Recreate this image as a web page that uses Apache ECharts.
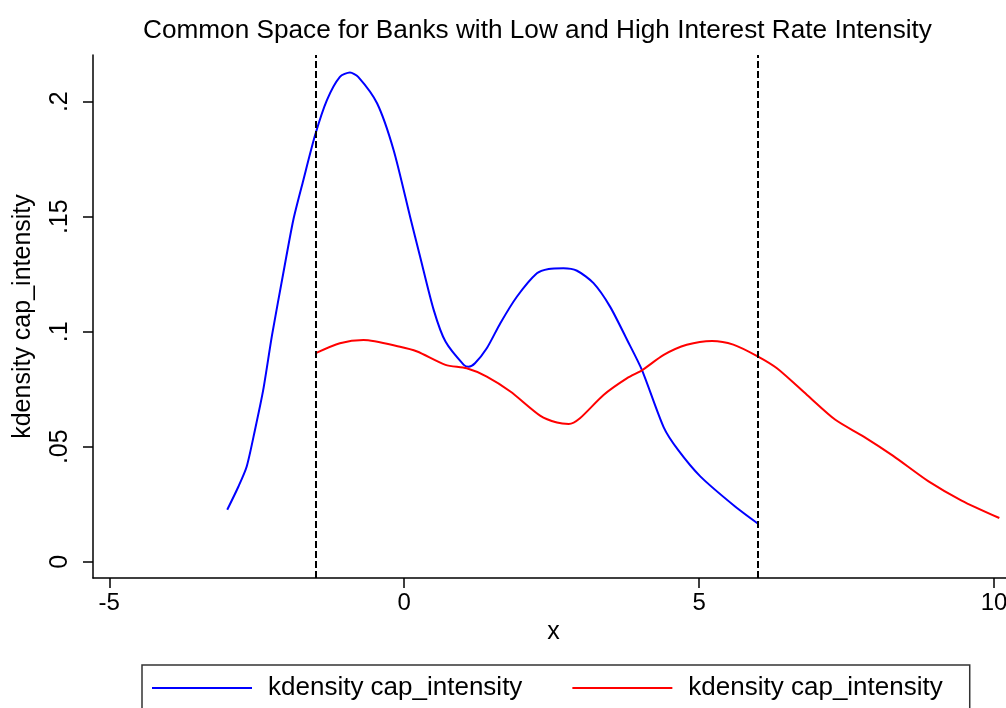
<!DOCTYPE html>
<html>
<head>
<meta charset="utf-8">
<script src="https://cdn.jsdelivr.net/npm/echarts@6/dist/echarts.min.js"></script>
<style>
  html, body { margin: 0; padding: 0; background: #fff; }
  #chart { width: 1006px; height: 708px; }
</style>
</head>
<body>
<div id="chart"></div>
<script>
// Kernel density estimate, low interest-rate-intensity banks
const lowX = [-3.0, -2.81, -2.67, -2.53, -2.39, -2.24, -2.05, -1.88, -1.71, -1.51, -1.31, -1.09, -0.92, -0.78, -0.46, -0.18, 0.10, 0.27, 0.50, 0.70, 1.01, 1.09, 1.20, 1.40, 1.63, 1.91, 2.25, 2.45, 2.70, 2.93, 3.21, 3.49, 3.78, 4.03, 4.40, 4.64, 5.02, 5.61, 6.0];
const lowY = [0.0226, 0.0327, 0.0414, 0.0573, 0.0747, 0.0986, 0.1254, 0.1486, 0.1659, 0.1855, 0.2007, 0.2108, 0.2127, 0.2108, 0.1993, 0.1790, 0.1500, 0.1326, 0.1095, 0.0957, 0.0856, 0.0848, 0.0863, 0.0928, 0.1037, 0.1152, 0.1254, 0.1273, 0.1276, 0.1265, 0.1211, 0.1109, 0.0964, 0.0834, 0.0584, 0.0487, 0.0371, 0.0240, 0.0165];

// Kernel density estimate, high interest-rate-intensity banks
const highX = [-1.5, -1.09, -0.69, -0.07, 0.22, 0.70, 1.06, 1.40, 1.80, 2.31, 2.59, 2.79, 2.98, 3.38, 3.78, 4.03, 4.40, 4.79, 5.22, 5.58, 6.0, 6.32, 6.83, 7.31, 7.79, 8.29, 8.89, 9.45, 10.09];
const highY = [0.0907, 0.0950, 0.0964, 0.0935, 0.0914, 0.0856, 0.0841, 0.0805, 0.0740, 0.0634, 0.0605, 0.0599, 0.0624, 0.0725, 0.0798, 0.0832, 0.0899, 0.0943, 0.0960, 0.0944, 0.0892, 0.0841, 0.0725, 0.0617, 0.0544, 0.0460, 0.0349, 0.0266, 0.0190];

// Bounds of the common support
const supportBounds = [-1.5, 6.0];

// Axis ticks and their labels
const xTicks = [-5, 0, 5, 10];
const xTickLabels = ['-5', '0', '5', '10'];
const yTicks = [0, 0.05, 0.1, 0.15, 0.2];
const yTickLabels = ['0', '.05', '.1', '.15', '.2'];

const seriesNames = ['kdensity cap_intensity', 'kdensity cap_intensity'];

const FONT = '"Liberation Sans", Arial, sans-serif';
const zip = (xs, ys) => xs.map((x, i) => [x, ys[i]]);
const labelFor = (ticks, labels) => v => {
  const i = ticks.findIndex(t => Math.abs(t - v) < 1e-9);
  return i >= 0 ? labels[i] : '';
};

const chart = echarts.init(document.getElementById('chart'), null, { renderer: 'canvas' });

chart.setOption({
  backgroundColor: '#ffffff',
  animation: false,
  title: {
    text: 'Common Space for Banks with Low and High Interest Rate Intensity',
    left: 143,
    top: 18,
    padding: 0,
    textStyle: { fontFamily: FONT, fontSize: 26.2, fontWeight: 'normal', color: '#000' }
  },
  grid: { left: 93, right: 0, top: 55, bottom: 130, containLabel: false, outerBoundsMode: 'none' },
  xAxis: {
    type: 'value',
    min: -5.276,
    max: 10.203,
    name: 'x',
    nameLocation: 'middle',
    nameGap: 28,
    nameTextStyle: { fontFamily: FONT, fontSize: 25, color: '#000', padding: [0, 0, 0, 8] },
    axisLine: { show: true, onZero: false, lineStyle: { color: '#000', width: 1.5 } },
    axisTick: { show: true, length: 10, customValues: xTicks, lineStyle: { color: '#000', width: 1.5 } },
    axisLabel: {
      customValues: xTicks,
      formatter: labelFor(xTicks, xTickLabels),
      margin: 13,
      fontFamily: FONT, fontSize: 24, color: '#000'
    },
    splitLine: { show: false }
  },
  yAxis: {
    type: 'value',
    min: -0.00708,
    max: 0.2203,
    name: 'kdensity cap_intensity',
    nameLocation: 'middle',
    nameGap: 57,
    nameTextStyle: { fontFamily: FONT, fontSize: 25, color: '#000' },
    axisLine: { show: true, onZero: false, lineStyle: { color: '#000', width: 1.5 } },
    axisTick: { show: true, length: 10, customValues: yTicks, lineStyle: { color: '#000', width: 1.5 } },
    axisLabel: {
      customValues: yTicks,
      formatter: labelFor(yTicks, yTickLabels),
      rotate: 90,
      margin: 20,
      fontFamily: FONT, fontSize: 25, color: '#000'
    },
    splitLine: { show: false }
  },
  legend: {
    left: 142,
    top: 665,
    orient: 'horizontal',
    padding: [10, 27, 40, 10],
    itemWidth: 100,
    itemHeight: 14,
    itemGap: 50,
    borderColor: '#333',
    borderWidth: 1.5,
    textStyle: { fontFamily: FONT, fontSize: 26, color: '#000', padding: [0, 0, 0, 11] },
    data: [
      { name: seriesNames[0], icon: 'path://M0,0L100,0L100,2L0,2Z', itemStyle: { color: '#0000ff' } },
      { name: 'high', icon: 'path://M0,0L100,0L100,2L0,2Z', itemStyle: { color: '#ff0000' } }
    ],
    formatter: name => name === 'high' ? seriesNames[1] : name
  },
  series: [
    {
      name: seriesNames[0],
      type: 'line',
      data: zip(lowX, lowY),
      showSymbol: false,
      symbol: 'none',
      smooth: 0.25,
      lineStyle: { color: '#0000ff', width: 2 },
      itemStyle: { color: '#0000ff' },
      markLine: {
        silent: true,
        symbol: ['none', 'none'],
        label: { show: false },
        lineStyle: { color: '#000', width: 2, type: [7, 3] },
        data: supportBounds.map(v => ({ xAxis: v }))
      }
    },
    {
      name: 'high',
      type: 'line',
      data: zip(highX, highY),
      showSymbol: false,
      symbol: 'none',
      smooth: 0.25,
      lineStyle: { color: '#ff0000', width: 2 },
      itemStyle: { color: '#ff0000' }
    }
  ]
});
</script>
</body>
</html>
